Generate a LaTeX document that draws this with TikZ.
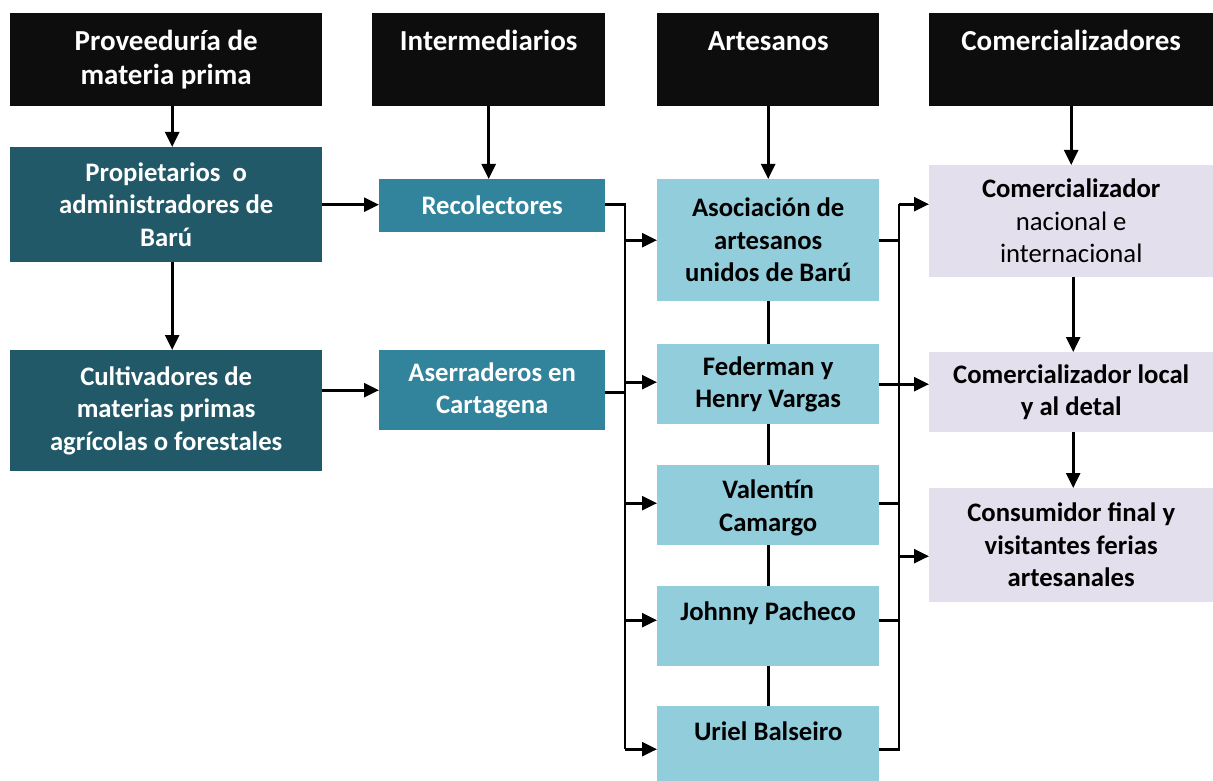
\documentclass[tikz,border=0pt]{standalone}
\usepackage{fontspec}
\setmainfont{Carlito}
\usetikzlibrary{arrows.meta,calc}
\definecolor{hdr}{HTML}{0D0D0D}
\definecolor{dteal}{HTML}{215968}
\definecolor{mteal}{HTML}{31849B}
\definecolor{lblue}{HTML}{92CDDC}
\definecolor{lav}{HTML}{E4DFEC}
\newcommand{\hdtext}[2]{\parbox[c][93pt][t]{#1pt}{\centering\rule{0pt}{37pt}#2}}
\begin{document}
\begin{tikzpicture}[x=1pt,y=-1pt,
  box/.style={anchor=north west, inner sep=0pt, align=center,
    font=\fontsize{26.7}{32.5}\selectfont\bfseries},
  hdrbox/.style={box, fill=hdr, text=white, minimum height=93pt,
    font=\fontsize{29}{34}\selectfont\bfseries},
  darkbox/.style={box, fill=dteal, text=white},
  midbox/.style={box, fill=mteal, text=white},
  artbox/.style={box, fill=lblue, text=black, minimum width=222pt},
  combox/.style={box, fill=lav, text=black, minimum width=284pt},
  conn/.style={line width=2.6pt, black, line join=miter},
  arr/.style={conn, -{Triangle[length=15pt,width=14pt]}}]
\useasboundingbox (0,0) rectangle (1213,781);
% headers
\node[hdrbox, minimum width=312pt] (h1) at (10,13) {\hdtext{305}{Proveeduría de\\materia prima}};
\node[hdrbox, minimum width=233pt] (h2) at (372,13) {\hdtext{230}{Intermediarios}};
\node[hdrbox, minimum width=222pt] (h3) at (657,13) {\hdtext{220}{Artesanos}};
\node[hdrbox, minimum width=284pt] (h4) at (929,13) {\hdtext{280}{Comercializadores}};
% column 1
\node[darkbox, minimum width=312pt, minimum height=115pt] (prop) at (10,147) {Propietarios\ \ o\\administradores de\\Barú};
\node[darkbox, minimum width=312pt, minimum height=121pt] (cult) at (10,350) {Cultivadores de\\materias primas\\agrícolas o forestales};
% column 2
\node[midbox, minimum width=226pt, minimum height=53pt] (recol) at (379,179) {Recolectores};
\node[midbox, minimum width=226pt, minimum height=80pt] (aserr) at (379,350) {Aserraderos en\\Cartagena};
% column 3
\node[artbox, minimum height=122pt] (asoc) at (657,179) {Asociación de\\artesanos\\unidos de Barú};
\node[artbox, minimum height=80pt] (fed) at (657,344) {Federman y\\Henry Vargas};
\node[artbox, minimum height=80pt] (val) at (657,465) {\rule{0pt}{24pt}Valentín\\Camargo};
\node[artbox, minimum height=80pt, text height=20pt, text depth=32pt] (john) at (657,586) {Johnny Pacheco};
\node[artbox, minimum height=75pt, text height=20pt, text depth=27pt] (uriel) at (657,706) {Uriel Balseiro};
% column 4
\node[combox, minimum height=112pt] (nac) at (929,165) {Comercializador\\\mdseries nacional e\\\mdseries internacional};
\node[combox, minimum height=80pt] (loc) at (929,352) {Comercializador local\\y al detal};
\node[combox, minimum height=114pt] (cons) at (929,488) {Consumidor final y\\visitantes ferias\\artesanales};
% bus coordinates
\coordinate (lb) at (625,0);
\coordinate (rb) at (899,0);
% header arrows
\draw[arr] ([xshift=6pt]h1.south) -- ([xshift=6pt]prop.north);
\draw[arr] (h2.south) -- (h2.south |- recol.north);
\draw[arr] (h3.south) -- (h3.south |- asoc.north);
\draw[arr] (h4.south) -- (h4.south |- nac.north);
% column 1 and 2
\draw[arr] ([xshift=6pt]prop.south) -- ([xshift=6pt]cult.north);
\draw[arr] (prop.east) -- (prop.east -| recol.west);
\draw[arr] (aserr.west -| cult.east) -- (aserr.west);
% left bus
\draw[conn] ([yshift=1pt]recol.east) -| ([yshift=-5.5pt]uriel.west -| lb);
\draw[conn] ([yshift=-2pt]aserr.east) -- ([yshift=-2pt]aserr.east -| lb);
\draw[arr] (asoc.west -| lb) -- (asoc.west);
\draw[arr] ([yshift=2pt]fed.west -| lb) -- ([yshift=2pt]fed.west);
\draw[arr] ([yshift=2pt]val.west -| lb) -- ([yshift=2pt]val.west);
\draw[arr] ([yshift=6pt]john.west -| lb) -- ([yshift=6pt]john.west);
\draw[arr] ([yshift=-5.5pt]uriel.west -| lb) -- ([yshift=-5.5pt]uriel.west);
% artisan chain
\draw[conn] (asoc.south) -- (fed.north);
\draw[conn] (fed.south) -- (val.north);
\draw[conn] (val.south) -- (john.north);
\draw[conn] (john.south) -- (uriel.north);
% right bus
\draw[conn] ([yshift=17pt]nac.west -| rb) -- ([yshift=-5.5pt]uriel.east -| rb) -- ([yshift=-5.5pt]uriel.east);
\draw[conn] (asoc.east) -- (asoc.east -| rb);
\draw[conn] (fed.east) -- (fed.east -| rb);
\draw[conn] ([yshift=2pt]val.east) -- ([yshift=2pt]val.east -| rb);
\draw[conn] ([yshift=6pt]john.east) -- ([yshift=6pt]john.east -| rb);
\draw[arr] ([yshift=17pt]nac.west -| rb) -- ([yshift=17pt]nac.west);
\draw[arr] ([yshift=8pt]loc.west -| rb) -- ([yshift=8pt]loc.west);
\draw[arr] ([yshift=-11pt]cons.west -| rb) -- ([yshift=-11pt]cons.west);
% column 4 chain
\draw[arr] ([xshift=2pt]nac.south) -- ([xshift=2pt]loc.north);
\draw[arr] ([xshift=2pt]loc.south) -- ([xshift=2pt]cons.north);
\end{tikzpicture}
\end{document}
